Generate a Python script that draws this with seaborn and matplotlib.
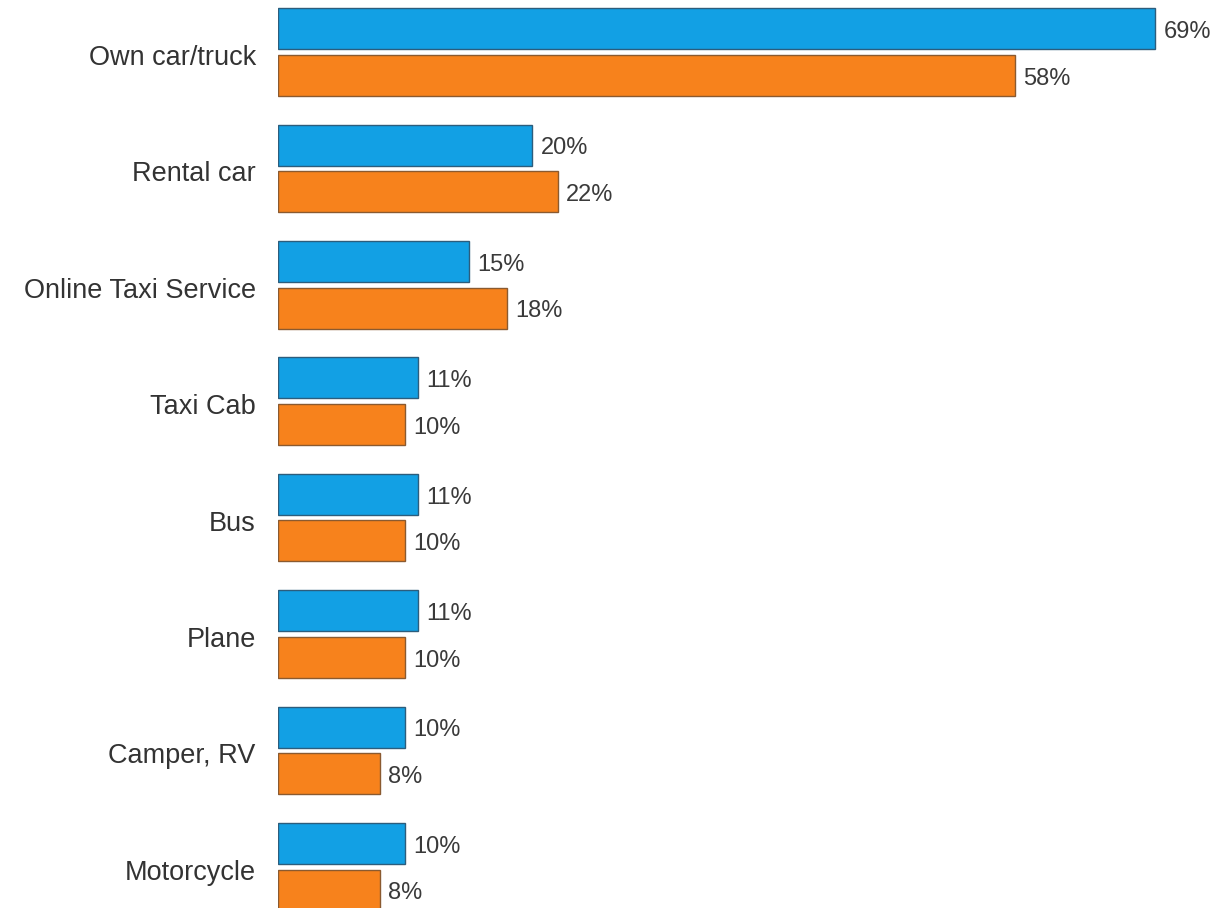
import matplotlib
matplotlib.use("Agg")
import matplotlib.pyplot as plt
import matplotlib.transforms as mtransforms
import seaborn as sns
import pandas as pd

categories = ["Own car/truck", "Rental car", "Online Taxi Service", "Taxi Cab",
              "Bus", "Plane", "Camper, RV", "Motorcycle"]
series_names = ["first", "second"]
first_values = [69, 20, 15, 11, 11, 11, 10, 10]
second_values = [58, 22, 18, 10, 10, 10, 8, 8]
colors = ["#12a0e4", "#f7821c"]
edge_colors = ["#2c5d7c", "#8a5a30"]

df = pd.DataFrame({
    "category": categories * 2,
    "series": [series_names[0]] * len(categories) + [series_names[1]] * len(categories),
    "value": first_values + second_values,
})

sns.set_theme(style="white")
plt.rcParams["font.family"] = ["Liberation Sans", "DejaVu Sans"]

fig = plt.figure(figsize=(12.16, 9.08), dpi=100)
ax = fig.add_axes([278 / 1216, 0, 1 - 278 / 1216, 1])

sns.barplot(data=df, x="value", y="category", hue="series", orient="h",
            order=categories, hue_order=series_names,
            palette=colors, saturation=1, gap=0.12, legend=False, ax=ax,
            linewidth=1.0)

for container, ec in zip(ax.containers, edge_colors):
    for bar in container:
        bar.set_edgecolor(ec)
    texts = ax.bar_label(container,
                         labels=[f"{int(round(b.get_width()))}%" for b in container],
                         padding=6, fontsize=17, color="#3a3a3a")
    for t in texts:
        ox, oy = t.xyann
        t.xyann = (ox, oy - 2.4)

ax.set_xlim(0, 73.8)
ax.set_ylim(7.354, -0.447)
ax.set_xlabel("")
ax.set_ylabel("")
ax.set_xticks([])
ax.tick_params(axis="y", length=0, pad=16, labelsize=19.5, labelcolor="#333333")

# nudge category labels slightly downward
shift = mtransforms.ScaledTranslation(0, -3 / 100, fig.dpi_scale_trans)
for lbl in ax.get_yticklabels():
    lbl.set_transform(lbl.get_transform() + shift)
for s in ax.spines.values():
    s.set_visible(False)

fig.savefig("out.png", dpi=100)
